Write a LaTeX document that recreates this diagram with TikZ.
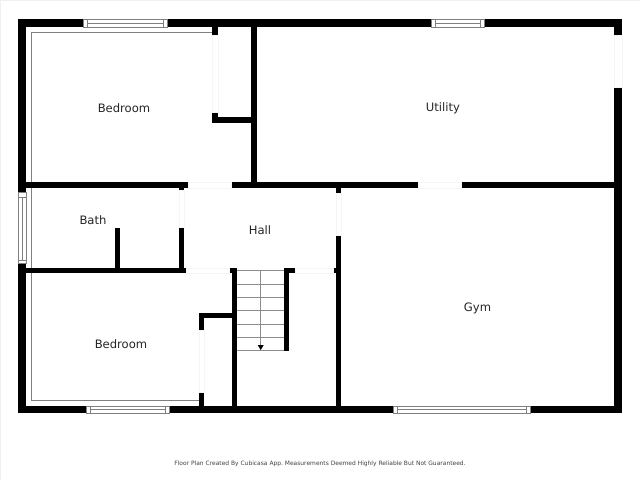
\documentclass[tikz,border=0pt]{standalone}
\usepackage{fontspec}
\setmainfont{DejaVu Sans}
\usepackage{tikz}
\tikzset{
  wall/.style = {fill=black},
  door/.style = {draw=black!4, line width=0.6pt, fill=white},
  pane/.style = {draw=black!50, line width=0.7pt, fill=white},
  trim/.style = {draw=black!50, line width=0.8pt},
  tread/.style = {draw=black!45, line width=0.7pt},
  room/.style = {font=\fontsize{11.6}{13}\selectfont, text=black!85, inner sep=0pt},
  credit/.style = {font=\frenchspacing\fontsize{5.95}{7}\selectfont, text=black!75, inner sep=0pt}
}
\begin{document}
\begin{tikzpicture}[x=1pt, y=-1pt]
      \useasboundingbox (0,0) rectangle (640,480);
      \fill [white] (0,0) rectangle (640,480);
      \draw [black!6, line width=1pt] (0.5,480) -- (0.5,0.5) -- (640,0.5);
      \draw [trim] (31,182) -- (31,32) -- (212,32);
      \draw [trim] (31,188) -- (31,268);
      \draw [trim] (31,273) -- (31,400) -- (199,400);
      \fill [wall] (18,19) rectangle (83,27);
      \fill [wall] (167,19) rectangle (431,27);
      \fill [wall] (484,19) rectangle (622,27);
      \fill [wall] (18,19) rectangle (26,192);
      \fill [wall] (18,263) rectangle (26,413);
      \fill [wall] (614,19) rectangle (622,35);
      \fill [wall] (614,87) rectangle (622,413);
      \fill [wall] (18,406) rectangle (86,413);
      \fill [wall] (169,406) rectangle (393,413);
      \fill [wall] (530,406) rectangle (622,413);
      \fill [wall] (26,182) rectangle (188,188);
      \fill [wall] (231,182) rectangle (418,188);
      \fill [wall] (461,182) rectangle (614,188);
      \fill [wall] (251,27) rectangle (257,185);
      \fill [wall] (212,27) rectangle (218,35);
      \fill [wall] (212,112) rectangle (218,123);
      \fill [wall] (212,117) rectangle (251,123);
      \fill [wall] (179,188) rectangle (184,190);
      \fill [wall] (179,227) rectangle (184,273);
      \fill [wall] (115,228) rectangle (120,268);
      \fill [wall] (26,268) rectangle (186,273);
      \fill [wall] (229,268) rectangle (237,273);
      \fill [wall] (232,268) rectangle (237,406);
      \fill [wall] (284,268) rectangle (295,273);
      \fill [wall] (284,268) rectangle (289,351);
      \fill [wall] (333,268) rectangle (337,273);
      \fill [wall] (336,186) rectangle (341,193);
      \fill [wall] (336,235) rectangle (341,406);
      \fill [wall] (199,313) rectangle (232,318);
      \fill [wall] (199,313) rectangle (204,330);
      \fill [wall] (199,392) rectangle (204,406);
      \draw [door] (614,35) rectangle (622,87);
      \draw [door] (212,35) rectangle (218,112);
      \draw [door] (188,182) rectangle (231,188);
      \draw [door] (418,182) rectangle (461,188);
      \draw [door] (179,190) rectangle (184,227);
      \draw [door] (336,193) rectangle (341,235);
      \draw [door] (186,268) rectangle (229,273);
      \draw [door] (295,268) rectangle (333,273);
      \draw [door] (199,330) rectangle (204,392);
      \draw [pane] (83,19) rectangle (167,27);
      \draw [pane] (87,19) -- (87,27) (163,19) -- (163,27) (87,23) -- (163,23);
      \draw [pane] (431,19) rectangle (484,27);
      \draw [pane] (435,19) -- (435,27) (480,19) -- (480,27) (435,23) -- (480,23);
      \draw [pane] (18,192) rectangle (26,263);
      \draw [pane] (18,197) -- (26,197) (18,260) -- (26,260) (22,197) -- (22,260);
      \draw [pane] (86,406) rectangle (169,413);
      \draw [pane] (90,406) -- (90,413) (165,406) -- (165,413) (90,409.5) -- (165,409.5);
      \draw [pane] (393,406) rectangle (530,413);
      \draw [pane] (397,406) -- (397,413) (526,406) -- (526,413) (397,409.5) -- (526,409.5);
      \draw [tread] (237,270.5) -- (284,270.5);
      \draw [tread] (237,284) -- (284,284);
      \draw [tread] (237,297) -- (284,297);
      \draw [tread] (237,310.5) -- (284,310.5);
      \draw [tread] (237,324) -- (284,324);
      \draw [tread] (237,337) -- (284,337);
      \draw [tread] (237,350.5) -- (284,350.5);
      \draw [tread] (260.7,270.5) -- (260.7,346);
      \fill [black] (257.7,345) -- (263.7,345) -- (260.7,350) -- cycle;
      \node (bedroomA) [room] at (124,108) {Bedroom};
      \node (utility) [room] at (443,108) {Utility};
      \node (bath) [room] at (93,220) {Bath};
      \node (hall) [room] at (260,230) {Hall};
      \node (gym) [room] at (477.5,308) {Gym};
      \node (bedroomB) [room] at (121,344) {Bedroom};
      \node (credit) [credit] at (320,463.5) {Floor Plan Created By Cubicasa App. Measurements Deemed Highly Reliable But Not Guaranteed.};
\end{tikzpicture}
\end{document}
